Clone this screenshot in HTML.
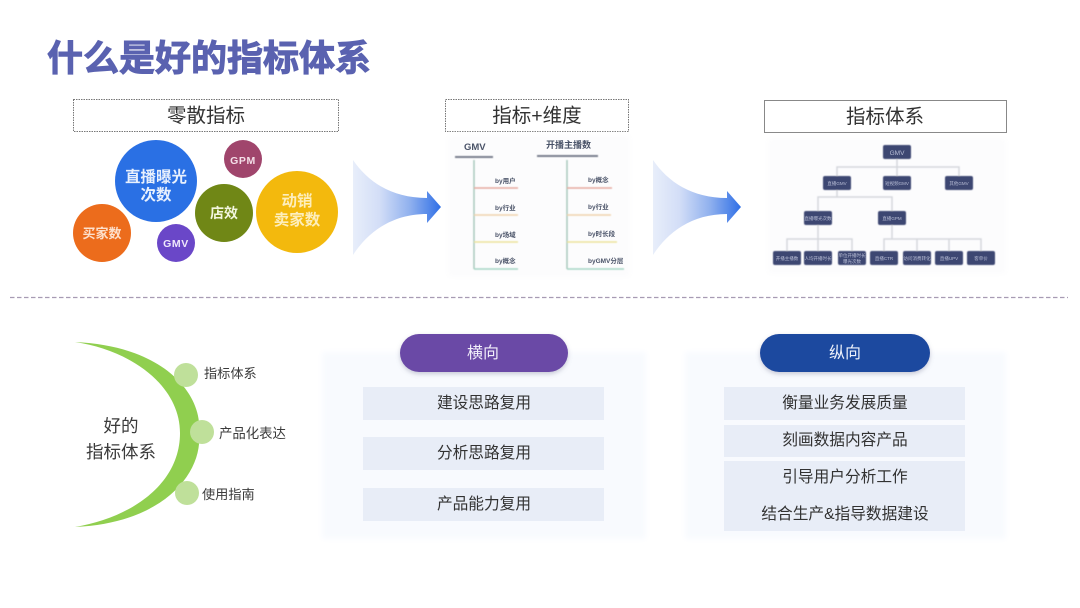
<!DOCTYPE html>
<html lang="zh"><head><meta charset="utf-8">
<style>
html,body{margin:0;padding:0;background:#fff;width:1080px;height:608px;overflow:hidden}
svg{display:block}
text{font-family:"Liberation Sans","Noto Sans CJK SC",sans-serif}
</style></head><body>
<svg width="1080" height="608" viewBox="0 0 1080 608" xmlns="http://www.w3.org/2000/svg">
<defs>
<linearGradient id="ag" x1="0" x2="1" y1="0" y2="0"><stop offset="0" stop-color="#e8eefa"/><stop offset=".3" stop-color="#d3def7"/><stop offset=".65" stop-color="#8fb0ee"/><stop offset="1" stop-color="#2f6fe6"/></linearGradient>
<filter id="b1" x="-5%" y="-5%" width="110%" height="110%"><feGaussianBlur stdDeviation="0.6"/></filter>
<filter id="b2" x="-5%" y="-5%" width="110%" height="110%"><feGaussianBlur stdDeviation="0.35"/></filter>
<filter id="b3" x="-5%" y="-5%" width="110%" height="110%"><feGaussianBlur stdDeviation="0.25"/></filter>
<filter id="b5" x="-5%" y="-5%" width="110%" height="110%"><feGaussianBlur stdDeviation="3"/></filter>
<filter id="sh" x="-10%" y="-20%" width="120%" height="150%"><feDropShadow dx="0" dy="2" stdDeviation="2.500" flood-color="#7d7f9c" flood-opacity=".4"/></filter>
<g id="arrow"><path d="M353 160C368 182 392 198 427 198V191L441 207L427 223V214C392 214 368 232 353 255Z" fill="url(#ag)"/></g>
</defs>
<rect width="1080" height="608" fill="#fff"/>

<text x="47" y="70.500" font-size="36" font-weight="700" fill="#5a62b0" stroke="#5a62b0" stroke-width="1" filter="url(#b3)">什么是好的指标体系</text>

<rect x="73.500" y="99.500" width="265" height="32" fill="#fff" stroke="#777" stroke-dasharray="1.500 1"/>
<text x="206" y="122" font-size="19.500" fill="#333" text-anchor="middle" filter="url(#b3)">零散指标</text>
<rect x="445.500" y="99.500" width="183" height="32" fill="#fff" stroke="#777" stroke-dasharray="1.500 1"/>
<text x="537" y="122" font-size="19.500" fill="#333" text-anchor="middle" filter="url(#b3)">指标+维度</text>
<rect x="764.500" y="100.500" width="242" height="32" fill="#fff" stroke="#888"/>
<text x="885" y="123" font-size="19.500" fill="#333" text-anchor="middle" filter="url(#b3)">指标体系</text>

<g filter="url(#b2)">
<circle cx="156" cy="181" r="41" fill="#2b70e4"/>
<circle cx="243" cy="159" r="19" fill="#a0446c"/>
<circle cx="224" cy="213" r="29" fill="#6f8714"/>
<circle cx="297" cy="212" r="41" fill="#f3b90c"/>
<circle cx="102" cy="233" r="29" fill="#ec6c1f"/>
<circle cx="176" cy="243" r="19" fill="#6b46c8"/>
<g fill="#fff" font-weight="700" text-anchor="middle">
<text x="156" y="182" font-size="15.500" fill="#e8f0fd">直播曝光</text>
<text x="156" y="200" font-size="15.500" fill="#e8f0fd">次数</text>
<text x="243" y="164" font-size="10.500" letter-spacing=".6" fill="#f4dfe8">GPM</text>
<text x="224" y="218" font-size="14" fill="#f3f6df">店效</text>
<text x="297" y="206" font-size="15.500" fill="#fdeebc">动销</text>
<text x="297" y="225" font-size="15.500" fill="#fdeebc">卖家数</text>
<text x="102" y="238" font-size="13" fill="#fde0cc">买家数</text>
<text x="176" y="247" font-size="10.500" letter-spacing=".6" fill="#efe9fb">GMV</text>
</g>
</g>

<use href="#arrow"/>
<use href="#arrow" x="300"/>

<rect x="448" y="135" width="182" height="142" fill="#fcfcfd" filter="url(#b5)"/>
<g filter="url(#b1)" fill="none" stroke-width="1.500">
<path d="M455 157H493M537 156H598" stroke="#7b8190" stroke-width="2"/>
<path d="M474 160V269M567 160V269" stroke="#a9c9bd"/>
<path d="M474 188H518" stroke="#e6a9a0"/><path d="M474 215H518" stroke="#f0d3ad"/><path d="M474 242H518" stroke="#ece39b"/><path d="M474 269H518" stroke="#a5d6c4"/>
<path d="M567 188H612" stroke="#e6a9a0"/><path d="M567 215H611" stroke="#f0d3ad"/><path d="M567 242H617" stroke="#ece39b"/><path d="M567 269H624" stroke="#a5d6c4"/>
</g>
<g filter="url(#b2)" fill="#4a5268" font-weight="700">
<text x="464" y="150" font-size="9.500">GMV</text>
<text x="546" y="148" font-size="9">开播主播数</text>
<g font-size="6.500">
<text x="495" y="183">by用户</text><text x="495" y="210">by行业</text><text x="495" y="237">by场域</text><text x="495" y="263">by概念</text>
<text x="588" y="182">by概念</text><text x="588" y="209">by行业</text><text x="588" y="236">by时长段</text><text x="588" y="263">byGMV分层</text>
</g>
</g>

<rect x="768" y="138" width="238" height="136" fill="#fcfcfd" filter="url(#b5)"/>
<g filter="url(#b1)">
<path d="M897 159V167M837 176V167H959V176M897 167V176M837 190V197M818 211V197H892V211M818 225V251M892 225V239M787 251V239H852V251M884 251V239H981V251M917 239V251M949 239V251" fill="none" stroke="#d6d8dd" stroke-width="1.500"/>
<g fill="#3c4672">
<rect x="883" y="145" width="28" height="14" rx="2"/>
<rect x="823" y="176" width="28" height="14" rx="2"/><rect x="883" y="176" width="28" height="14" rx="2"/><rect x="945" y="176" width="28" height="14" rx="2"/>
<rect x="804" y="211" width="28" height="14" rx="2"/><rect x="878" y="211" width="28" height="14" rx="2"/>
<rect x="773" y="251" width="28" height="14" rx="2"/><rect x="804" y="251" width="28" height="14" rx="2"/><rect x="838" y="251" width="28" height="14" rx="2"/><rect x="870" y="251" width="28" height="14" rx="2"/><rect x="903" y="251" width="28" height="14" rx="2"/><rect x="935" y="251" width="28" height="14" rx="2"/><rect x="967" y="251" width="28" height="14" rx="2"/>
</g>
</g>
<g fill="#b9bed6" text-anchor="middle" filter="url(#b2)">
<text x="897" y="155" font-size="6.500">GMV</text>
<g font-size="4.500">
<text x="837" y="185">直播GMV</text><text x="897" y="185">短视频GMV</text><text x="959" y="185">其他GMV</text>
<text x="818" y="220">直播曝光次数</text><text x="892" y="220">直播GPM</text>
<text x="787" y="260">开播主播数</text><text x="818" y="260">人均开播时长</text>
<text x="852" y="257">单位开播时长</text><text x="852" y="263">曝光次数</text>
<text x="884" y="260">直播CTR</text><text x="917" y="260">访问消费转化</text><text x="949" y="260">直播UPV</text><text x="981" y="260">客单价</text>
</g>
</g>

<line x1="10" y1="297.500" x2="1068" y2="297.500" stroke="#a79bb3" stroke-width="1.200" stroke-dasharray="4.500 2.500"/>

<path d="M75 342C165 346 203 395 199 433C203 472 165 523 75 527C130 518 180 485 180 433C180 385 130 350 75 342Z" fill="#90cf50" filter="url(#b3)"/>
<circle cx="186" cy="375" r="12" fill="#bfe09a"/>
<circle cx="202" cy="432" r="12" fill="#bfe09a"/>
<circle cx="187" cy="493" r="12" fill="#bfe09a"/>
<g fill="#3a3a3a" filter="url(#b3)">
<text x="121" y="432" font-size="17.500" text-anchor="middle">好的</text>
<text x="121" y="458" font-size="17.500" text-anchor="middle">指标体系</text>
<text x="204" y="378" font-size="13.200">指标体系</text>
<text x="219" y="438" font-size="13.400">产品化表达</text>
<text x="202" y="499" font-size="13.200">使用指南</text>
</g>

<rect x="322" y="352" width="324" height="187" fill="#f8fafe" filter="url(#b5)"/>
<rect x="685" y="352" width="321" height="187" fill="#f8fafe" filter="url(#b5)"/>
<rect x="400" y="334" width="168" height="38" rx="19" fill="#6b48a6" filter="url(#sh)"/>
<rect x="760" y="334" width="170" height="38" rx="19" fill="#1f4a9f" filter="url(#sh)"/>
<text x="483" y="358" font-size="16" fill="#f2effa" text-anchor="middle">横向</text>
<text x="845" y="358" font-size="16" fill="#eef2fb" text-anchor="middle">纵向</text>
<g fill="#e8edf7">
<rect x="363" y="387" width="241" height="33"/><rect x="363" y="437" width="241" height="33"/><rect x="363" y="488" width="241" height="33"/>
<rect x="724" y="387" width="241" height="33"/><rect x="724" y="425" width="241" height="32"/><rect x="724" y="461" width="241" height="70"/>
</g>
<g font-size="15.700" fill="#333" text-anchor="middle" filter="url(#b3)">
<text x="484" y="408">建设思路复用</text>
<text x="484" y="458">分析思路复用</text>
<text x="484" y="509">产品能力复用</text>
<text x="845" y="408">衡量业务发展质量</text>
<text x="845" y="445">刻画数据内容产品</text>
<text x="845" y="482">引导用户分析工作</text>
<text x="845" y="519">结合生产&amp;指导数据建设</text>
</g>
</svg>
</body></html>
